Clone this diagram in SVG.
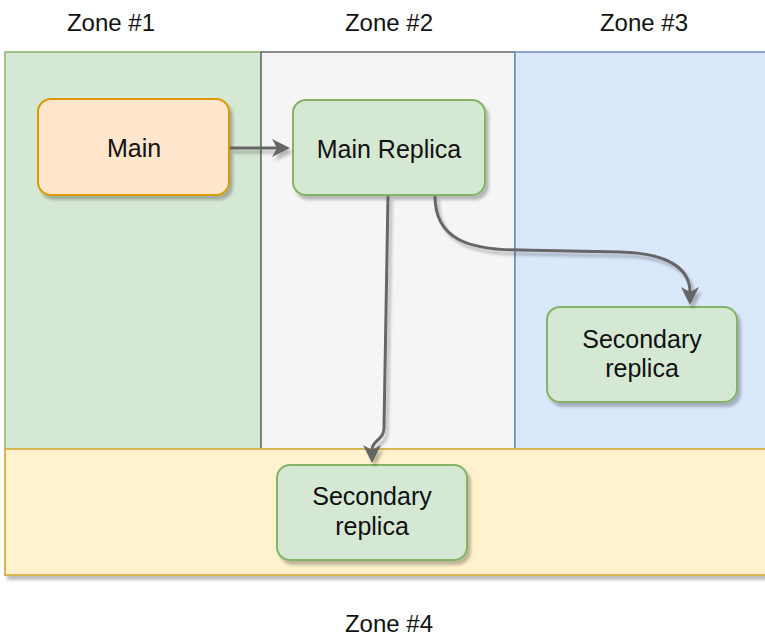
<svg xmlns="http://www.w3.org/2000/svg" width="765" height="638" viewBox="0 0 765 638">
<style>
  .lbl { font-family: "Liberation Sans", Arial, Helvetica, sans-serif; font-size: 24px; fill: #111; text-anchor: middle; }
  .ntxt { font-family: "Liberation Sans", Arial, Helvetica, sans-serif; font-size: 25px; fill: #111; text-anchor: middle; }
  .green { fill: #d5e8d4; stroke: #82b366; stroke-width: 2; }
  .orange { fill: #ffe6cc; stroke: #d79b00; stroke-width: 2; }
  .edge { fill: none; stroke: #666666; stroke-width: 3; }
</style>
<defs>
  <filter id="sh" x="-10%" y="-10%" width="130%" height="130%">
    <feDropShadow dx="3" dy="4" stdDeviation="1.5" flood-color="#000" flood-opacity="0.25"/>
  </filter>
  <marker id="arr" viewBox="0 0 18 18" refX="5" refY="9" markerWidth="18" markerHeight="18" markerUnits="userSpaceOnUse" orient="auto">
    <path d="M0,0 L18,9 L0,18 L5,9 Z" fill="#666666"/>
  </marker>
</defs>
<rect width="765" height="638" fill="#ffffff"/>

<g id="zones">
  <rect id="zone1" x="5" y="52" width="256" height="397" fill="#d5e8d4" stroke="#82b366" stroke-width="1.5"/>
  <rect id="zone2" x="261" y="52" width="254" height="397" fill="#f5f5f5" stroke="#666666" stroke-width="1.5"/>
  <rect id="zone3" x="515" y="52" width="262" height="397" fill="#dae8fc" stroke="#6c8ebf" stroke-width="1.5"/>
  <rect id="zone4" x="5" y="449" width="772" height="126" fill="#fff2cc" stroke="#d6b656" stroke-width="2" filter="url(#sh)"/>
</g>

<g id="zone-labels">
  <text class="lbl" x="111" y="31">Zone #1</text>
  <text class="lbl" x="389" y="31">Zone #2</text>
  <text class="lbl" x="644" y="31">Zone #3</text>
  <text class="lbl" x="389" y="632">Zone #4</text>
</g>

<g id="main">
  <rect class="orange" x="38" y="99" width="191" height="96" rx="13" filter="url(#sh)"/>
  <text class="ntxt" x="134" y="157">Main</text>
</g>

<g id="main-replica">
  <rect class="green" x="293" y="100" width="192" height="95" rx="13" filter="url(#sh)"/>
  <text class="ntxt" x="389" y="158">Main Replica</text>
</g>

<g id="secondary-zone3">
  <rect class="green" x="547" y="307" width="190" height="95" rx="13" filter="url(#sh)"/>
  <text class="ntxt" x="642" y="348">Secondary</text>
  <text class="ntxt" x="642" y="377">replica</text>
</g>

<g id="secondary-zone4">
  <rect class="green" x="277" y="465" width="190" height="95" rx="13" filter="url(#sh)"/>
  <text class="ntxt" x="372" y="505">Secondary</text>
  <text class="ntxt" x="372" y="535">replica</text>
</g>

<g id="connectors" filter="url(#sh)">
  <path class="edge" d="M 230 148 L 277 148" marker-end="url(#arr)"/>
  <path class="edge" d="M 388 196 L 384 428 C 384 440, 372 440, 372 450" marker-end="url(#arr)"/>
  <path class="edge" d="M 435 196 C 435 240, 470 250, 520 250 L 620 252 C 670 253, 690 270, 690 292" marker-end="url(#arr)"/>
</g>
</svg>
